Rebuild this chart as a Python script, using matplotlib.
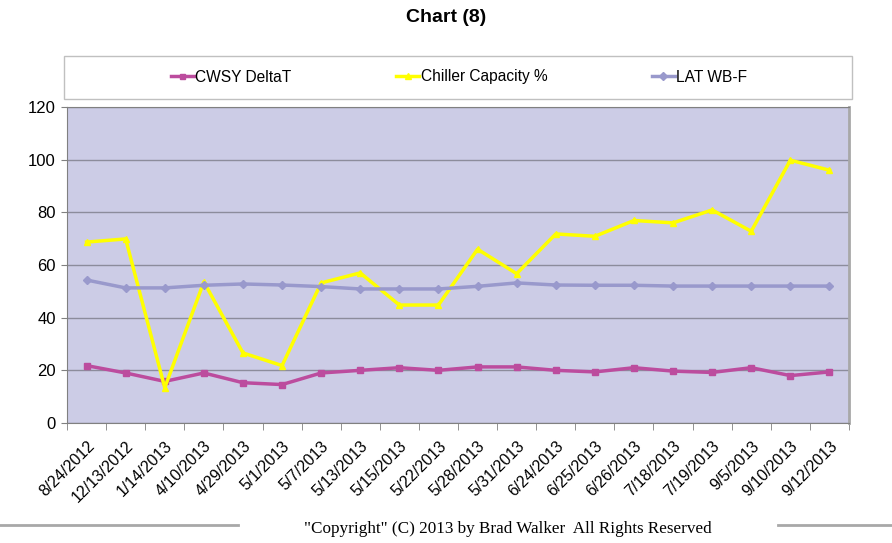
import matplotlib.pyplot as plt
import numpy as np
from matplotlib.patches import Rectangle
from matplotlib.lines import Line2D

dates = ['8/24/2012', '12/13/2012', '1/14/2013', '4/10/2013', '4/29/2013', '5/1/2013',
         '5/7/2013', '5/13/2013', '5/15/2013', '5/22/2013', '5/28/2013', '5/31/2013',
         '6/24/2013', '6/25/2013', '6/26/2013', '7/18/2013', '7/19/2013', '9/5/2013',
         '9/10/2013', '9/12/2013']
cwsy = [21.8, 19.0, 15.8, 19.0, 15.3, 14.6, 19.0, 20.0, 21.0, 20.0,
        21.3, 21.3, 20.0, 19.4, 21.0, 19.7, 19.2, 21.0, 18.0, 19.4]
chiller = [68.7, 69.9, 13.4, 53.6, 26.6, 21.8, 53.2, 57.0, 44.8, 44.8,
           66.0, 56.7, 71.8, 70.9, 76.9, 76.0, 80.9, 72.8, 99.8, 96.0]
lat = [54.3, 51.3, 51.3, 52.3, 52.8, 52.4, 51.8, 50.9, 50.9, 50.9,
       51.9, 53.2, 52.4, 52.3, 52.3, 52.0, 52.0, 52.0, 52.0, 52.0]

plt.rcParams['font.family'] = ['Liberation Sans', 'DejaVu Sans']
W, H = 892, 543
fig = plt.figure(figsize=(W/100, H/100), dpi=100)
ax = fig.add_axes([67/W, 1-423/H, (849-67)/W, (423-107)/H])
ax.set_facecolor('#CCCCE6')

x = np.arange(len(dates))
l1, = ax.plot(x, cwsy, color='#BC4C9E', lw=2.5, marker='s', ms=4.5, label='CWSY DeltaT', zorder=3)
l2, = ax.plot(x, chiller, color='#FFFF00', lw=2.5, marker='^', ms=5, label='Chiller Capacity %', zorder=3)
l3, = ax.plot(x, lat, color='#9999CC', lw=2.5, marker='D', ms=4.5, label='LAT WB-F', zorder=3)

ax.set_xlim(-0.5, len(dates)-0.5)
ax.set_ylim(0, 120)
ax.set_yticks(np.arange(0, 121, 20))
ax.yaxis.grid(True, color='#8C8C9C', lw=1)
ax.set_axisbelow(True)
ax.tick_params(axis='y', labelsize=12, length=4, color='#808080', pad=4)

ax.set_xticks(x)
ax.set_xticklabels(dates, rotation=45, ha='right', rotation_mode='anchor', fontsize=11.5)
ax.set_xticks(np.arange(-0.5, len(dates), 1), minor=True)
ax.tick_params(axis='x', which='major', length=0, pad=11)
ax.tick_params(axis='x', which='minor', length=5, color='#808080')

for s in ['left', 'bottom', 'top']:
    ax.spines[s].set_color('#808080')
ax.spines['right'].set_color('#A8A8A8')
ax.spines['right'].set_linewidth(2)

fig.text(0.5, 1-18/H, 'Chart (8)', ha='center', va='center', fontsize=14, fontweight='bold')

fig.patches.append(Rectangle((64/W, 1-99/H), (852-64)/W, 43/H, transform=fig.transFigure,
                             facecolor='white', edgecolor='#C0C0C0', lw=1))
fig.legend(handles=[l1, l2, l3], loc='center', bbox_to_anchor=(459/W, 1-77/H), ncol=3,
           frameon=False, fontsize=11.2, handlelength=1.5, handletextpad=0.1,
           columnspacing=6.7, markerscale=0.8)

fig.add_artist(Line2D([0, 238/W], [1-525/H, 1-525/H], color='#A8A8A8', lw=2))
fig.add_artist(Line2D([778/W, 1], [1-525/H, 1-525/H], color='#A8A8A8', lw=2))
fig.text(508/W, 1-529/H, '"Copyright" (C) 2013 by Brad Walker  All Rights Reserved',
         ha='center', va='center', fontsize=12.3, family='Liberation Serif')

fig.savefig('out.png', dpi=100)
